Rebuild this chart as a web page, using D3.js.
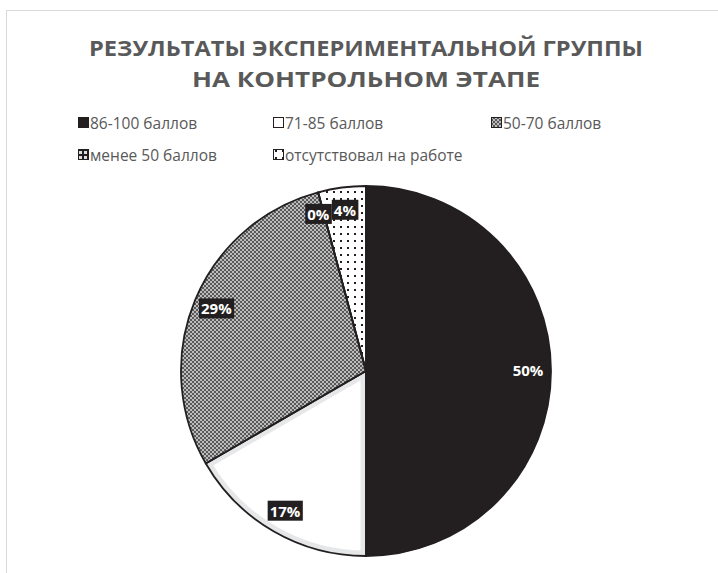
<!DOCTYPE html>
<html>
<head>
<meta charset="utf-8">
<script src="https://cdn.jsdelivr.net/npm/d3@7"></script>
<style>
  body { margin: 0; background: #fff; }
  svg { display: block; font-family: "Open Sans", "Noto Sans", sans-serif; }
</style>
</head>
<body>
<svg id="chart" width="718" height="573"></svg>
<script>
const titleLines = ["РЕЗУЛЬТАТЫ ЭКСПЕРИМЕНТАЛЬНОЙ ГРУППЫ", "НА КОНТРОЛЬНОМ ЭТАПЕ"];
const categories = ["86-100 баллов", "71-85 баллов", "50-70 баллов", "менее 50 баллов", "отсутствовал на работе"];
const counts = [12, 4, 7, 0, 1];
const fills = ["#231f20", "#ffffff", "url(#checker)", "url(#bigdots)", "url(#dots)"];

const W = 718, H = 573;
const cx = 366, cy = 371, R = 185;

function defs(svg) {
  const d = svg.append("defs");
  const ch = d.append("pattern").attr("id", "checker")
    .attr("width", 4).attr("height", 4).attr("patternUnits", "userSpaceOnUse");
  ch.append("rect").attr("width", 4).attr("height", 4).attr("fill", "#bcbcbc");
  ch.append("rect").attr("width", 2).attr("height", 2).attr("fill", "#595959");
  ch.append("rect").attr("x", 2).attr("y", 2).attr("width", 2).attr("height", 2).attr("fill", "#595959");

  const dt = d.append("pattern").attr("id", "dots")
    .attr("width", 7).attr("height", 7).attr("patternUnits", "userSpaceOnUse");
  dt.append("rect").attr("width", 7).attr("height", 7).attr("fill", "#fff");
  dt.append("rect").attr("x", 2).attr("y", 2).attr("width", 2).attr("height", 2).attr("fill", "#231f20");

  const bd = d.append("pattern").attr("id", "bigdots")
    .attr("width", 5).attr("height", 5).attr("patternUnits", "userSpaceOnUse");
  bd.append("rect").attr("width", 5).attr("height", 5).attr("fill", "#231f20");
  bd.append("rect").attr("x", 1).attr("y", 1).attr("width", 3).attr("height", 3).attr("fill", "#ddd");
}

function main() {
  const svg = d3.select("#chart");
  defs(svg);

  // chart frame (right and bottom edges run off the page)
  svg.append("rect").attr("x", 6.5).attr("y", 10.5)
    .attr("width", W + 20).attr("height", H + 20)
    .attr("fill", "none").attr("stroke", "#d9d9d9");

  const titleWidths = [554, 348];
  svg.selectAll("text.title").data(titleLines).enter().append("text")
    .attr("class", "title")
    .attr("x", cx).attr("y", (d, i) => 56 + i * 31)
    .attr("text-anchor", "middle")
    .attr("font-size", 22).attr("font-weight", "bold").attr("fill", "#595959")
    .attr("textLength", (d, i) => titleWidths[i]).attr("lengthAdjust", "spacingAndGlyphs")
    .text(d => d);

  // legend
  const colX = [78, 273, 491];
  const legend = svg.selectAll("g.legend").data(categories).enter().append("g")
    .attr("class", "legend")
    .attr("transform", (d, i) => `translate(${colX[i % 3]},${123 + Math.floor(i / 3) * 32})`);
  legend.append("rect").attr("x", 0.5).attr("y", -5.5).attr("width", 10).attr("height", 10)
    .attr("fill", (d, i) => fills[i]).attr("stroke", "#231f20").attr("stroke-width", 1);
  legend.append("text").attr("x", 12).attr("y", 5.5)
    .attr("font-size", 15.5).attr("fill", "#595959")
    .text(d => d);

  const total = d3.sum(counts);
  const pie = d3.pie().sort(null).value(d => d);
  const arcs = pie(counts);
  const arc = d3.arc().innerRadius(0).outerRadius(R);
  const g = svg.append("g").attr("transform", `translate(${cx},${cy})`);

  g.selectAll("clipPath").data(arcs).enter().append("clipPath")
    .attr("id", (d, i) => "clip" + i)
    .append("path").attr("d", arc);

  g.selectAll("path.slice").data(arcs).enter().append("path")
    .attr("class", "slice")
    .attr("d", arc)
    .attr("fill", (d, i) => fills[i]);

  // light grey inner band on the white slice
  g.selectAll("path.band").data(arcs.filter((d, i) => i === 1)).enter().append("path")
    .attr("class", "band")
    .attr("d", arc)
    .attr("clip-path", "url(#clip1)")
    .attr("fill", "none").attr("stroke", "#e6e7e8").attr("stroke-width", 11);

  g.selectAll("path.edge").data(arcs).enter().append("path")
    .attr("class", "edge")
    .attr("d", arc)
    .attr("fill", "none").attr("stroke", "#231f20").attr("stroke-width", 1.8)
    .attr("stroke-linejoin", "round");

  const labelArc = d3.arc().innerRadius(162).outerRadius(162);
  const pos = arcs.map(d => labelArc.centroid(d));
  const labels = g.selectAll("g.label").data(arcs).enter().append("g")
    .attr("class", "label");
  labels.append("text")
    .attr("text-anchor", "middle").attr("dy", "0.36em")
    .attr("font-size", 15).attr("font-weight", "bold").attr("fill", "#fff")
    .text(d => Math.round(d.value / total * 100) + "%");

  // push a label left when it runs into the next one (0% next to 4%)
  const widths = [];
  labels.each(function (d, i) { widths[i] = this.getBBox().width + 4; });
  for (let i = pos.length - 2; i >= 0; i--) {
    const a = pos[i], b = pos[i + 1];
    if (Math.abs(a[1] - b[1]) < 20) {
      const overlap = a[0] + widths[i] / 2 - (b[0] - widths[i + 1] / 2);
      if (overlap > 0) a[0] -= overlap;
    }
  }
  labels.attr("transform", (d, i) => `translate(${pos[i]})`);
  labels.each(function () {
    const t = d3.select(this).select("text");
    const b = t.node().getBBox();
    d3.select(this).insert("rect", "text")
      .attr("x", b.x - 2).attr("y", b.y)
      .attr("width", b.width + 4).attr("height", b.height)
      .attr("fill", "#231f20");
  });
}

window.onload = main;
</script>
</body>
</html>
